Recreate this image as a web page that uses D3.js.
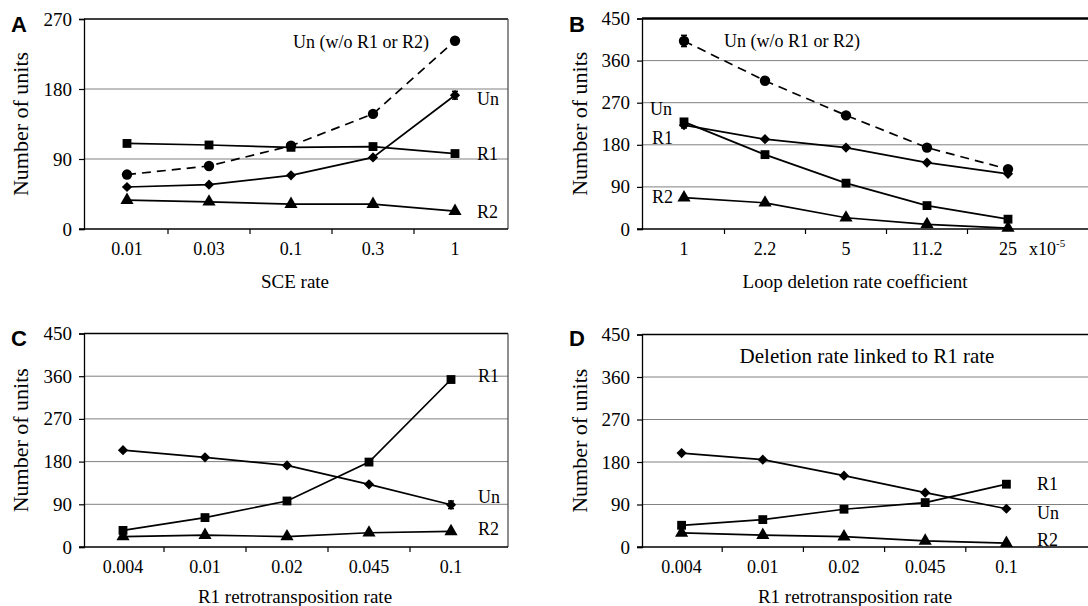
<!DOCTYPE html>
<html>
<head>
<meta charset="utf-8">
<script src="https://cdn.jsdelivr.net/npm/d3@7"></script>
<style>
  body { margin: 0; background: #fff; }
</style>
</head>
<body>
<div id="chart-area"></div>
<script>
// ---- data ----
var sceRate = ["0.01", "0.03", "0.1", "0.3", "1"];
var aUnFree = [70, 81, 107, 148, 242];
var aUn = [54, 57, 69, 92, 172];
var aR1 = [110, 108, 105, 106, 97];
var aR2 = [37, 35, 32, 32, 23];
var aUnErr = [0, 0, 0, 0, 5];

var loopCoef = ["1", "2.2", "5", "11.2", "25"];
var bUnFree = [402, 317, 243, 174, 128];
var bUn = [222, 192, 174, 142, 118];
var bR1 = [229, 159, 98, 50, 21];
var bR2 = [67, 56, 24, 10, 2];
var bUnFreeErr = [12, 0, 0, 0, 0];
var bUnErr = [6, 0, 0, 0, 0];

var r1Rate = ["0.004", "0.01", "0.02", "0.045", "0.1"];
var cUn = [204, 189, 172, 132, 89];
var cR1 = [35, 62, 97, 179, 353];
var cR2 = [22, 25, 22, 30, 33];
var cUnErr = [0, 0, 0, 0, 8];

var dUn = [199, 185, 151, 115, 81];
var dR1 = [46, 58, 80, 94, 133];
var dR2 = [30, 25, 22, 13, 8];

var ticks270 = [0, 90, 180, 270];
var ticks450 = [0, 90, 180, 270, 360, 450];

var SERIF = "'Liberation Serif', 'DejaVu Serif', serif";
var SANS = "'Liberation Sans', Arial, sans-serif";

var svg = d3.select("#chart-area")
    .append("svg")
        .attr("width", 1088)
        .attr("height", 606)
        .style("font-family", SERIF);

// diamond = square turned 45deg
var diamond = {
    draw: function(ctx, size) {
        var r = Math.sqrt(size) / 2;
        ctx.moveTo(0, -r); ctx.lineTo(r, 0); ctx.lineTo(0, r); ctx.lineTo(-r, 0); ctx.closePath();
    }
};
var shapes = {
    circle: d3.symbol().type(d3.symbolCircle).size(85),
    square: d3.symbol().type(d3.symbolSquare).size(78),
    diamond: d3.symbol().type(diamond).size(105),
    triangle: d3.symbol().type(d3.symbolTriangle).size(75)
};

var panels = [
    { letter: "A", lx: 11, ly: 32, left: 84, right: 508, top: 19, bottom: 229,
      bandStart: 86, step: 82, cats: sceRate, ticks: ticks270, topWidth: 1.5, rightBorder: true,
      xTitle: "SCE rate", xTitleX: 295, xTitleY: 288, tickY: 255, yTitleX: 28,
      series: [
        { values: aUnFree, shape: "circle", dash: true },
        { values: aR1, shape: "square" },
        { values: aUn, shape: "diamond", err: aUnErr },
        { values: aR2, shape: "triangle" }
      ],
      labels: [
        { t: "Un (w/o R1 or R2)", x: 293, y: 48 },
        { t: "Un", x: 477, y: 105 },
        { t: "R1", x: 477, y: 160 },
        { t: "R2", x: 477, y: 218 }
      ] },
    { letter: "B", lx: 569, ly: 32, left: 642, right: 1088, top: 18.5, bottom: 229,
      bandStart: 643.5, step: 81, cats: loopCoef, ticks: ticks450, topWidth: 2.5, rightBorder: false,
      xTitle: "Loop deletion rate coefficient", xTitleX: 855, xTitleY: 288, tickY: 255, yTitleX: 587,
      unit: true,
      series: [
        { values: bUnFree, shape: "circle", dash: true, err: bUnFreeErr },
        { values: bR1, shape: "square" },
        { values: bUn, shape: "diamond", err: bUnErr },
        { values: bR2, shape: "triangle" }
      ],
      labels: [
        { t: "Un (w/o R1 or R2)", x: 724, y: 47 },
        { t: "Un", x: 650, y: 115 },
        { t: "R1", x: 652, y: 144 },
        { t: "R2", x: 652, y: 203 }
      ] },
    { letter: "C", lx: 11, ly: 346, left: 84, right: 508, top: 333.5, bottom: 547,
      bandStart: 82, step: 82, cats: r1Rate, ticks: ticks450, topWidth: 1.5, rightBorder: true,
      xTitle: "R1 retrotransposition rate", xTitleX: 295, xTitleY: 603, tickY: 573, yTitleX: 28,
      series: [
        { values: cR1, shape: "square" },
        { values: cUn, shape: "diamond", err: cUnErr },
        { values: cR2, shape: "triangle" }
      ],
      labels: [
        { t: "R1", x: 478, y: 382 },
        { t: "Un", x: 478, y: 503 },
        { t: "R2", x: 478, y: 535 }
      ] },
    { letter: "D", lx: 569, ly: 346, left: 642, right: 1088, top: 334.5, bottom: 547,
      bandStart: 641, step: 81.2, cats: r1Rate, ticks: ticks450, topWidth: 1.5, rightBorder: false,
      xTitle: "R1 retrotransposition rate", xTitleX: 855, xTitleY: 603, tickY: 573, yTitleX: 587,
      title: "Deletion rate linked to R1 rate",
      series: [
        { values: dR1, shape: "square" },
        { values: dUn, shape: "diamond" },
        { values: dR2, shape: "triangle" }
      ],
      labels: [
        { t: "R1", x: 1037, y: 490 },
        { t: "Un", x: 1037, y: 519 },
        { t: "R2", x: 1037, y: 546 }
      ] }
];

panels.forEach(function(p) {
    var g = svg.append("g");

    var x = d3.scaleBand()
        .domain(p.cats)
        .range([p.bandStart, p.bandStart + p.step * p.cats.length]);
    var y = d3.scaleLinear()
        .domain([0, d3.max(p.ticks)])
        .range([p.bottom, p.top]);

    // gridlines
    g.selectAll(".grid")
        .data(p.ticks.slice(1, -1))
        .enter().append("line")
        .attr("x1", p.left).attr("x2", p.right)
        .attr("y1", function(d) { return y(d); })
        .attr("y2", function(d) { return y(d); })
        .attr("stroke", "#808080")
        .attr("stroke-width", 1);

    // top border
    g.append("line")
        .attr("x1", p.left).attr("x2", p.right)
        .attr("y1", p.top).attr("y2", p.top)
        .attr("stroke", "#000")
        .attr("stroke-width", p.topWidth);
    if (p.rightBorder) {
        g.append("line")
            .attr("x1", p.right).attr("x2", p.right)
            .attr("y1", p.top).attr("y2", p.bottom)
            .attr("stroke", "#444")
            .attr("stroke-width", 1.2);
    }

    // y axis
    var yAxisCall = d3.axisLeft(y)
        .tickValues(p.ticks)
        .tickSize(5)
        .tickPadding(7)
        .tickFormat(d3.format("d"));
    var yAxisGroup = g.append("g")
        .attr("transform", "translate(" + p.left + ",0)")
        .call(yAxisCall)
        .attr("font-family", SERIF);
    yAxisGroup.select(".domain").attr("stroke-width", 1.3);
    yAxisGroup.selectAll(".tick line").attr("stroke-width", 1.2);
    yAxisGroup.selectAll("text")
        .attr("font-size", "19px")
        .style("font-family", SERIF)
        .attr("fill", "#000");

    // x axis line and ticks between categories
    g.append("line")
        .attr("x1", p.left - 5).attr("x2", p.right)
        .attr("y1", p.bottom).attr("y2", p.bottom)
        .attr("stroke", "#000")
        .attr("stroke-width", 1.5);
    g.selectAll(".xtick")
        .data(p.cats.slice(1))
        .enter().append("line")
        .attr("x1", function(d) { return x(d); })
        .attr("x2", function(d) { return x(d); })
        .attr("y1", p.bottom).attr("y2", p.bottom + 5)
        .attr("stroke", "#000")
        .attr("stroke-width", 1.2);
    g.selectAll(".xlabel")
        .data(p.cats)
        .enter().append("text")
        .attr("x", function(d) { return x(d) + x.bandwidth() / 2; })
        .attr("y", p.tickY)
        .attr("text-anchor", "middle")
        .attr("font-size", "18px")
        .style("font-family", SERIF)
        .text(function(d) { return d; });

    if (p.unit) {
        var u = g.append("text")
            .attr("x", 1029)
            .attr("y", p.tickY)
            .attr("font-size", "18px")
            .style("font-family", SERIF)
            .text("x10");
        u.append("tspan")
            .attr("font-size", "11px")
            .attr("dy", "-8")
            .text("-5");
    }

    // axis titles
    g.append("text")
        .attr("x", p.xTitleX)
        .attr("y", p.xTitleY)
        .attr("text-anchor", "middle")
        .attr("font-size", "19px")
        .style("font-family", SERIF)
        .text(p.xTitle);
    g.append("text")
        .attr("transform", "translate(" + p.yTitleX + "," + ((p.top + p.bottom) / 2) + ") rotate(-90)")
        .attr("text-anchor", "middle")
        .attr("font-size", "22px")
        .style("font-family", SERIF)
        .text("Number of units");

    g.append("text")
        .attr("x", p.lx)
        .attr("y", p.ly)
        .attr("font-size", "22px")
        .attr("font-weight", "bold")
        .style("font-family", SANS)
        .text(p.letter);

    if (p.title) {
        g.append("text")
            .attr("x", 867)
            .attr("y", 363)
            .attr("text-anchor", "middle")
            .attr("font-size", "21px")
            .style("font-family", SERIF)
            .text(p.title);
    }

    var cx = function(i) { return x(p.cats[i]) + x.bandwidth() / 2; };
    var line = d3.line()
        .x(function(d, i) { return cx(i); })
        .y(function(d) { return y(d); });

    // lines
    p.series.forEach(function(s) {
        g.append("path")
            .datum(s.values)
            .attr("d", line)
            .attr("fill", "none")
            .attr("stroke", "#000")
            .attr("stroke-width", 1.7)
            .attr("stroke-dasharray", s.dash ? "9,6" : null);
    });

    // error bars + markers
    p.series.forEach(function(s) {
        if (s.err) {
            s.values.forEach(function(v, i) {
                if (!s.err[i]) return;
                var e = s.err[i];
                g.append("line")
                    .attr("x1", cx(i)).attr("x2", cx(i))
                    .attr("y1", y(v - e)).attr("y2", y(v + e))
                    .attr("stroke", "#000").attr("stroke-width", 1.5);
                [v - e, v + e].forEach(function(w) {
                    g.append("line")
                        .attr("x1", cx(i) - 3).attr("x2", cx(i) + 3)
                        .attr("y1", y(w)).attr("y2", y(w))
                        .attr("stroke", "#000").attr("stroke-width", 1.5);
                });
            });
        }
        g.selectAll(null)
            .data(s.values)
            .enter().append("path")
            .attr("d", shapes[s.shape])
            .attr("transform", function(d, i) {
                return "translate(" + cx(i) + "," + y(d) + ")";
            })
            .attr("fill", "#000");
    });

    // series labels
    g.selectAll(".slabel")
        .data(p.labels)
        .enter().append("text")
        .attr("x", function(d) { return d.x; })
        .attr("y", function(d) { return d.y; })
        .attr("font-size", "18px")
        .style("font-family", SERIF)
        .text(function(d) { return d.t; });
});
</script>
</body>
</html>
